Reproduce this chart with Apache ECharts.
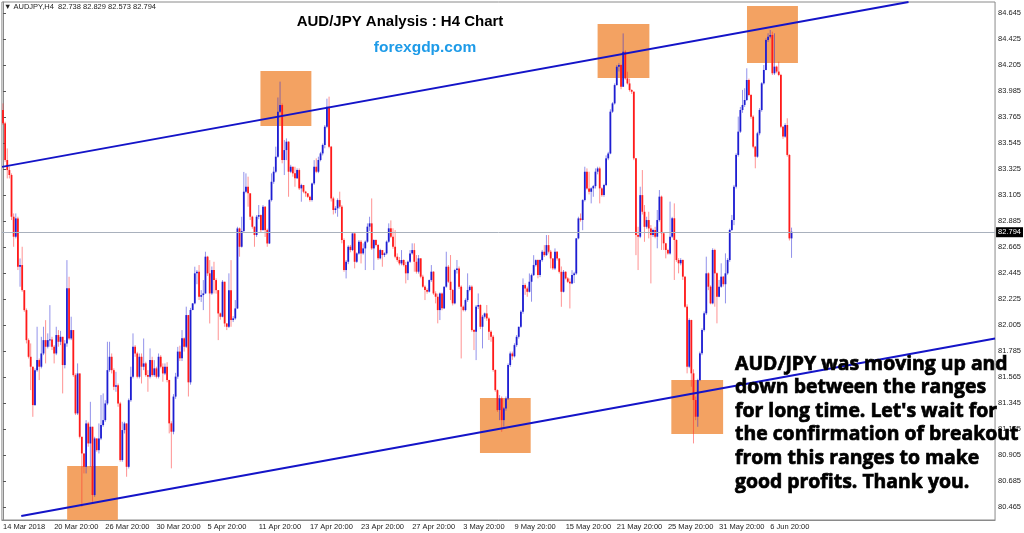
<!DOCTYPE html>
<html><head><meta charset="utf-8">
<script src="https://cdn.jsdelivr.net/npm/echarts@6.0.0/dist/echarts.min.js"></script>
<style>html,body{margin:0;padding:0;background:#fff}#c{width:1024px;height:533px}</style>
</head><body><div id="c"></div>
<script>
const firstOpen = 83.824;
const closes = [
83.711,83.401,83.316,83.274,82.921,82.752,82.907,82.498,82.512,82.300,
82.131,81.877,81.736,81.652,81.327,81.623,81.708,81.652,81.764,81.877,
81.821,81.877,81.883,81.821,81.764,81.920,81.863,81.905,81.666,81.849,
82.315,81.891,81.962,81.581,81.257,81.595,81.059,80.918,80.805,81.172,
81.003,81.144,80.566,81.045,80.946,81.045,81.158,81.200,81.341,81.623,
81.736,81.623,81.482,81.496,81.341,80.862,81.116,81.172,80.805,81.369,
81.567,81.821,81.764,81.567,81.736,81.652,81.680,81.581,81.567,81.708,
81.581,81.638,81.567,81.736,81.652,81.595,81.652,81.540,81.173,81.102,
81.399,81.568,81.780,81.723,81.892,81.821,82.089,81.520,82.132,82.188,
82.442,82.456,82.244,82.258,82.272,82.583,82.442,82.272,82.470,82.385,
82.300,82.103,82.075,82.371,82.018,81.990,82.300,82.047,82.061,82.145,
82.822,82.667,82.800,83.133,83.175,83.119,82.921,82.836,82.766,82.921,
82.935,82.808,83.006,82.808,82.695,83.062,83.217,83.302,83.429,83.810,
83.866,83.401,83.485,83.556,83.302,83.344,83.288,83.246,83.316,83.161,
83.189,83.133,83.119,83.090,83.062,83.203,83.344,83.302,83.401,83.457,
83.528,83.683,83.852,83.514,83.076,82.978,82.992,83.062,83.006,82.724,
82.470,82.540,82.667,82.639,82.780,82.540,82.611,82.710,82.611,82.653,
82.710,82.837,82.865,82.653,82.724,82.682,82.569,82.639,82.597,82.611,
82.710,82.823,82.752,82.667,82.583,82.555,82.526,82.555,82.512,82.442,
82.540,82.611,82.639,82.540,82.456,82.569,82.414,82.329,82.301,82.287,
82.385,82.456,82.272,82.244,82.131,82.272,82.146,82.329,82.498,82.371,
82.301,82.188,82.470,82.484,82.329,82.160,82.131,82.216,82.301,82.329,
81.962,81.948,82.160,82.174,81.990,82.075,82.103,82.061,81.948,81.906,
81.624,81.454,81.285,81.384,81.200,81.299,81.384,81.666,81.764,81.740,
81.835,81.905,81.990,82.117,82.343,82.314,82.286,82.371,82.427,82.512,
82.554,82.427,82.554,82.625,82.596,82.681,82.625,82.568,82.484,82.625,
82.568,82.455,82.286,82.455,82.399,82.371,82.357,82.427,82.441,82.738,
82.907,82.893,83.062,83.302,83.161,83.132,83.161,83.180,83.302,83.330,
83.161,83.104,83.189,83.415,83.456,83.810,83.880,84.035,84.190,84.204,
84.021,84.317,84.092,84.049,83.993,83.979,83.415,82.766,82.752,83.104,
82.963,82.836,82.893,82.822,82.766,82.808,82.752,82.893,83.091,82.781,
82.696,82.640,82.611,82.752,82.908,82.724,82.555,82.527,82.555,82.414,
82.160,81.652,82.047,81.596,81.370,81.229,81.539,81.765,81.963,82.104,
82.442,82.329,82.188,82.640,82.442,82.245,82.329,82.414,82.350,82.442,
82.555,82.809,82.893,83.175,83.444,83.641,83.824,83.867,83.909,84.078,
83.951,83.768,83.514,83.429,83.627,83.824,84.050,84.163,84.417,84.445,
84.459,84.135,84.191,84.149,84.121,83.683,83.599,83.697,83.444,82.738,
82.794];
const highs = [
83.880,83.725,83.499,83.344,83.288,82.949,82.949,82.921,82.568,82.667,
82.300,82.145,81.891,81.849,81.652,81.638,81.990,81.722,81.905,81.990,
82.046,81.934,82.173,81.905,81.835,81.990,81.962,81.955,81.905,81.877,
82.554,82.413,82.075,81.962,81.595,81.680,81.595,81.059,80.918,81.200,
81.186,81.355,81.144,81.059,81.045,81.172,81.412,81.426,81.369,81.863,
81.863,81.764,81.638,81.609,81.510,81.355,81.186,81.186,81.172,81.383,
81.652,81.934,81.835,81.778,81.764,81.764,81.891,81.694,81.623,81.807,
81.736,81.708,81.652,81.764,81.750,81.680,81.680,81.690,81.540,81.190,
81.420,81.600,81.820,81.830,81.962,81.900,82.160,82.090,82.150,82.190,
82.498,82.470,82.512,82.300,82.385,82.625,82.590,82.554,82.500,82.540,
82.400,82.300,82.110,82.385,82.370,82.020,82.442,82.554,82.080,82.216,
82.836,82.830,82.921,83.300,83.288,83.260,83.120,82.930,82.840,82.935,
83.020,82.940,83.020,83.010,82.820,83.070,83.288,83.344,83.514,83.930,
84.064,83.880,83.570,83.584,83.560,83.360,83.344,83.344,83.330,83.330,
83.200,83.190,83.140,83.120,83.100,83.210,83.400,83.415,83.429,83.470,
83.540,83.697,83.920,83.937,83.520,83.090,83.010,83.076,83.133,83.020,
82.738,82.555,82.680,82.682,82.780,82.780,82.620,82.724,82.724,82.696,
82.720,82.865,82.921,83.076,82.730,82.730,82.690,82.650,82.640,82.620,
82.720,82.865,82.890,82.823,82.808,82.611,82.580,82.639,82.560,82.540,
82.550,82.639,82.696,82.696,82.597,82.597,82.570,82.430,82.340,82.315,
82.390,82.512,82.460,82.290,82.270,82.280,82.280,82.330,82.625,82.512,
82.597,82.310,82.480,82.555,82.500,82.340,82.170,82.230,82.442,82.343,
82.340,81.970,82.174,82.272,82.180,82.090,82.110,82.174,82.070,81.960,
81.920,81.630,81.460,81.412,81.400,81.310,81.400,81.680,81.780,81.780,
81.850,81.920,81.990,82.130,82.399,82.357,82.330,82.441,82.440,82.596,
82.560,82.560,82.560,82.640,82.681,82.766,82.766,82.640,82.570,82.653,
82.630,82.570,82.500,82.470,82.460,82.410,82.399,82.469,82.455,82.740,
82.921,82.949,83.070,83.344,83.330,83.302,83.170,83.190,83.330,83.344,
83.344,83.170,83.200,83.440,83.470,83.830,83.890,84.049,84.204,84.220,
84.210,84.472,84.330,84.148,84.090,84.000,83.980,83.415,82.836,83.175,
83.316,83.020,82.921,82.963,82.850,82.820,82.836,82.978,83.147,83.100,
82.790,82.700,82.650,83.049,82.920,83.034,82.730,82.570,82.570,82.560,
82.420,82.180,82.061,82.050,81.630,81.400,81.550,81.780,81.977,82.120,
82.583,82.450,82.340,82.654,82.650,82.450,82.386,82.527,82.420,82.611,
82.570,82.820,82.936,83.190,83.458,83.768,83.850,83.994,84.008,84.177,
84.090,83.960,83.780,83.520,83.640,83.840,84.060,84.205,84.430,84.473,
84.501,84.487,84.473,84.200,84.233,84.130,83.690,83.712,83.754,83.450,
82.829];
const lows = [
83.697,83.386,83.245,83.245,82.893,82.667,82.738,82.470,82.329,82.286,
82.117,81.849,81.722,81.454,81.228,81.327,81.609,81.539,81.638,81.750,
81.680,81.807,81.821,81.793,81.680,81.750,81.821,81.835,81.426,81.638,
81.821,81.877,81.877,81.567,81.243,81.243,81.045,80.467,80.749,80.749,
80.975,80.805,80.509,80.551,80.932,80.918,81.031,81.144,81.186,81.327,
81.609,81.595,81.454,81.440,81.313,80.848,80.848,81.087,80.721,80.791,
81.355,81.553,81.736,81.553,81.553,81.510,81.623,81.567,81.440,81.553,
81.567,81.567,81.553,81.553,81.638,81.525,81.581,81.520,81.088,80.792,
81.080,81.380,81.550,81.700,81.700,81.780,81.810,81.400,81.500,82.130,
82.180,82.350,82.216,82.200,82.131,82.270,82.420,82.018,82.260,82.272,
82.270,81.877,82.050,82.070,81.990,81.962,81.980,81.990,82.030,82.050,
82.140,82.583,82.660,82.790,83.120,83.006,82.893,82.820,82.667,82.750,
82.900,82.790,82.800,82.750,82.667,82.690,83.050,83.200,83.290,83.420,
83.800,83.373,83.274,83.400,83.090,83.290,83.260,83.175,83.240,83.147,
83.048,83.120,83.090,83.080,83.048,83.050,83.190,83.290,83.290,83.390,
83.440,83.500,83.670,83.500,83.050,82.940,82.950,82.921,82.990,82.696,
82.456,82.399,82.520,82.620,82.630,82.484,82.530,82.600,82.526,82.600,
82.470,82.700,82.800,82.640,82.470,82.670,82.555,82.560,82.498,82.580,
82.600,82.700,82.740,82.650,82.570,82.540,82.510,82.510,82.500,82.357,
82.385,82.530,82.600,82.456,82.440,82.440,82.400,82.320,82.216,82.270,
82.280,82.370,82.260,82.188,82.019,82.047,82.130,82.140,82.320,82.360,
82.216,82.170,82.180,82.440,82.310,81.722,82.120,82.120,82.200,82.290,
81.948,81.793,81.708,82.140,81.970,81.807,82.060,82.040,81.878,81.863,
81.610,81.440,81.270,81.200,81.101,81.144,81.280,81.370,81.650,81.710,
81.730,81.820,81.890,81.980,82.100,82.260,82.244,82.280,82.202,82.420,
82.500,82.400,82.410,82.540,82.580,82.590,82.610,82.484,82.470,82.470,
82.550,82.441,82.159,82.280,82.390,82.360,82.145,82.350,82.360,82.430,
82.730,82.880,82.807,83.050,83.150,83.110,83.034,83.090,83.160,83.280,
83.034,83.090,83.090,83.180,83.400,83.450,83.800,83.870,84.030,84.150,
84.000,84.020,84.080,84.040,83.980,83.960,83.400,82.596,82.470,82.740,
82.940,82.709,82.820,82.738,82.357,82.750,82.738,82.654,82.880,82.640,
82.640,82.569,82.600,82.600,82.740,82.386,82.540,82.442,82.510,82.386,
82.150,81.596,81.640,81.483,81.003,81.200,81.144,81.530,81.750,81.950,
82.090,82.300,82.180,82.180,82.160,82.019,82.240,82.320,82.330,82.188,
82.430,82.540,82.800,82.850,83.160,83.430,83.630,83.800,83.850,83.900,
83.940,83.750,83.500,83.331,83.420,83.610,83.810,84.040,84.160,84.400,
84.430,84.120,84.121,84.135,84.110,83.670,83.580,83.590,83.430,82.720,
82.573];
const xLabels = ['14 Mar 2018','20 Mar 20:00','26 Mar 20:00','30 Mar 20:00','5 Apr 20:00','11 Apr 20:00','17 Apr 20:00','23 Apr 20:00','27 Apr 20:00','3 May 20:00','9 May 20:00','15 May 20:00','21 May 20:00','25 May 20:00','31 May 20:00','6 Jun 20:00'];
const labelStep = 24;
const yTicks = [80.465,80.685,80.905,81.125,81.345,81.565,81.785,82.005,82.225,82.445,82.665,82.885,83.105,83.325,83.545,83.765,83.985,84.205,84.425,84.645];
const lastPrice = 82.794;
const totalSlots = 466;
const upperLine = [[-0.45, 83.343], [424.9, 84.738]];
const lowerLine = [[8.56, 80.389], [465.5, 81.890]];
const boxes = [
  [120.8, 84.154, 144.7, 83.689],
  [30.1, 80.812, 53.9, 80.355],
  [223.8, 81.387, 247.6, 80.922],
  [279.0, 84.552, 303.3, 84.095],
  [349.1, 84.704, 373.0, 84.222],
  [313.6, 81.540, 337.9, 81.083]
];
const noteLines = ['AUD/JPY was moving up and','down between the ranges',"for long time. Let's wait for",'the confirmation of breakout','from this ranges to make','good profits. Thank you.'];

const opens = closes.map((c, i) => i === 0 ? firstOpen : closes[i - 1]);
const candles = closes.map((c, i) => {
  const o = opens[i];
  return [i, o, c, Math.min(lows[i], o, c), Math.max(highs[i], o, c)];
});
const cats = Array.from({length: totalSlots}, (_, i) => String(i));
const showIdx = (i) => i % labelStep === 0 && (i / labelStep) < xLabels.length;

const BULL = '#1e1ed2', BEAR = '#ff1a1a';
const BULL_W = 'rgba(40,40,215,0.5)', BEAR_W = 'rgba(255,40,40,0.5)';
function renderCandle(params, api) {
  const i = api.value(0), o = api.value(1), c = api.value(2), l = api.value(3), h = api.value(4);
  const pO = api.coord([i, o]), pC = api.coord([i, c]);
  const pL = api.coord([i, l]), pH = api.coord([i, h]);
  const x = pO[0];
  const bull = c >= o;
  const top = Math.min(pO[1], pC[1]);
  const hgt = Math.max(1, Math.abs(pC[1] - pO[1]));
  return {
    type: 'group',
    children: [
      {type: 'line', shape: {x1: x, y1: pH[1], x2: x, y2: pL[1]}, style: {stroke: bull ? BULL_W : BEAR_W, lineWidth: 1}},
      {type: 'rect', shape: {x: x - 0.9, y: top, width: 1.8, height: hgt}, style: {fill: bull ? BULL : BEAR}}
    ]
  };
}

const chart = echarts.init(document.getElementById('c'), null, {renderer: 'canvas'});
const F = 'Liberation Sans, Arial, sans-serif';
const notes = noteLines.map((t, k) => ({
  type: 'text', x: 735, y: 364 + k * 23.6, z: 100,
  style: {text: t, fill: '#000', stroke: '#000', lineWidth: 0.7, font: 'bold 19.4px "Open Sans", sans-serif', align: 'left', verticalAlign: 'middle'}
}));
chart.setOption({
  animation: false,
  backgroundColor: '#fff',
  grid: {left: 1, top: 2, width: 996, height: 518, show: true, borderColor: '#8a8a8a', borderWidth: 1, backgroundColor: 'transparent'},
  xAxis: [{
    type: 'category', data: cats, boundaryGap: true,
    axisLine: {lineStyle: {color: '#8a8a8a', width: 1}},
    axisTick: {alignWithLabel: true, interval: showIdx, length: 3, lineStyle: {color: '#555'}},
    axisLabel: {interval: showIdx, formatter: (v) => xLabels[Math.round(Number(v) / labelStep)] || '', align: 'left', fontSize: 7.5, color: '#222', margin: 3, fontFamily: F},
    splitLine: {show: false}
  }, {
    type: 'value', min: -0.5, max: totalSlots - 0.5, show: false
  }],
  yAxis: [{
    type: 'value', position: 'right', min: 80.355, max: 84.738, scale: true,
    axisLine: {show: true, lineStyle: {color: '#8a8a8a', width: 1}},
    axisTick: {show: true, customValues: yTicks, length: 3, lineStyle: {color: '#555'}},
    axisLabel: {customValues: yTicks, formatter: v => Number(v).toFixed(3), fontSize: 7.5, color: '#222', margin: 3, fontFamily: F},
    splitLine: {show: false}
  }],
  series: [
    {
      type: 'line', xAxisIndex: 1, yAxisIndex: 0, data: [[0, 82]], symbol: 'none', silent: true,
      lineStyle: {opacity: 0}, z: 1,
      markArea: {silent: true, itemStyle: {color: '#f3a262', opacity: 1},
        data: boxes.map(b => [{coord: [b[0], b[1]]}, {coord: [b[2], b[3]]}])},
      markLine: {
        silent: true, symbol: ['none', 'none'],
        lineStyle: {color: '#a9b1bd', width: 1, type: 'solid'},
        label: {show: true, position: 'end', formatter: lastPrice.toFixed(3), color: '#fff', backgroundColor: '#000', fontSize: 7.5, padding: [1, 2, 1, 2], distance: 1, fontFamily: F},
        data: [{yAxis: lastPrice}]
      }
    },
    {
      type: 'custom', xAxisIndex: 0, yAxisIndex: 0, data: candles, z: 3, silent: true,
      encode: {x: 0, y: [1, 2, 3, 4]},
      renderItem: renderCandle
    },
    {
      type: 'line', xAxisIndex: 1, yAxisIndex: 0, data: upperLine, symbol: 'none', silent: true, z: 5,
      lineStyle: {color: '#1414c8', width: 2}
    },
    {
      type: 'line', xAxisIndex: 1, yAxisIndex: 0, data: lowerLine, symbol: 'none', silent: true, z: 5,
      lineStyle: {color: '#1414c8', width: 2}
    }
  ],
  graphic: [
    {type: 'text', x: 4, y: 7, z: 100, style: {text: '\u25BC AUDJPY,H4  82.738 82.829 82.573 82.794', fill: '#222', font: '7.5px ' + F, align: 'left', verticalAlign: 'middle'}},
    {type: 'text', x: 400, y: 22, z: 100, style: {text: 'AUD/JPY Analysis : H4 Chart', fill: '#000', font: 'bold 15px ' + F, align: 'center', verticalAlign: 'middle'}},
    {type: 'text', x: 425, y: 48, z: 100, style: {text: 'forexgdp.com', fill: '#1e9be8', font: 'bold 15.5px ' + F, align: 'center', verticalAlign: 'middle'}}
  ].concat(notes)
});
</script></body></html>
